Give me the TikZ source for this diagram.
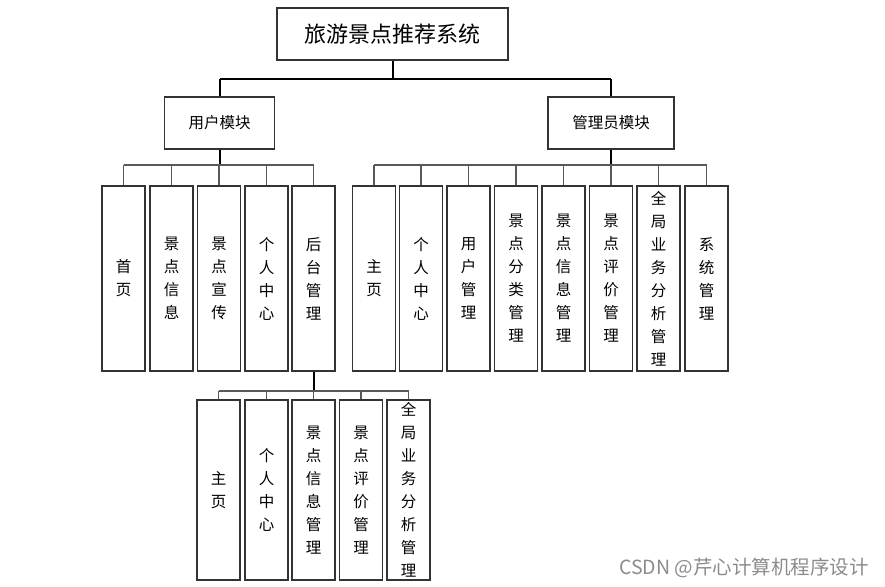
\documentclass[tikz,border=0pt]{standalone}
\usepackage{fontspec}
\setmainfont{Noto Sans CJK SC}
\begin{document}
\begin{tikzpicture}[x=1pt,y=-1pt,
  box/.style={draw=black!80,line width=1.1pt,fill=white,inner sep=0pt,align=center},
  topbox/.style={box,minimum width=231pt,minimum height=52pt,font=\fontsize{22}{26}\selectfont},
  modbox/.style={box,minimum height=52pt,font=\fontsize{15.5}{19}\selectfont},
  leaf/.style={box,minimum width=43pt,minimum height=185pt,font=\fontsize{15.5}{23}\selectfont},
  subleaf/.style={leaf,minimum height=180pt},
  trunk/.style={draw=black,line width=2pt},
  branch/.style={draw=black!65,line width=1.3pt}]
\useasboundingbox (0,0) rectangle (885,586);
\fill[white] (0,0) rectangle (885,586);
% top
\node[topbox] (title) at (392.5,34) {旅游景点推荐系统};
\node[modbox,minimum width=110pt] (user) at (219.5,123) {用户模块};
\node[modbox,minimum width=126pt] (admin) at (611,123) {管理员模块};
% user children
\node[leaf] (u1) at (123.5,278.5) {首\\页};
\node[leaf] (u2) at (171.5,278.5) {景\\点\\信\\息};
\node[leaf] (u3) at (219,278.5) {景\\点\\宣\\传};
\node[leaf] (u4) at (266.5,278.5) {个\\人\\中\\心};
\node[leaf] (u5) at (313.5,278.5) {后\\台\\管\\理};
% admin children
\node[leaf] (a1) at (374,278.5) {主\\页};
\node[leaf] (a2) at (421,278.5) {个\\人\\中\\心};
\node[leaf] (a3) at (468.5,278.5) {用\\户\\管\\理};
\node[leaf] (a4) at (516,278.5) {景\\点\\分\\类\\管\\理};
\node[leaf] (a5) at (563.5,278.5) {景\\点\\信\\息\\管\\理};
\node[leaf] (a6) at (611,278.5) {景\\点\\评\\价\\管\\理};
\node[leaf] (a7) at (658.5,278.5) {全\\局\\业\\务\\分\\析\\管\\理};
\node[leaf] (a8) at (706.5,278.5) {系\\统\\管\\理};
% sub children
\node[subleaf] (s1) at (218.5,490) {主\\页};
\node[subleaf] (s2) at (266.5,490) {个\\人\\中\\心};
\node[subleaf] (s3) at (313.5,490) {景\\点\\信\\息\\管\\理};
\node[subleaf] (s4) at (361,490) {景\\点\\评\\价\\管\\理};
\node[subleaf] (s5) at (408.5,490) {全\\局\\业\\务\\分\\析\\管\\理};
% bus coordinates
\coordinate (tbus) at (392.5,79);
\coordinate (ubus) at (219.5,165);
\coordinate (abus) at (611,165);
\coordinate (sbus) at (313.5,391);
% top trunk
\draw[trunk] (title.south) -- (tbus);
\draw[trunk] (user.north |- tbus) -- (admin.north |- tbus);
\draw[trunk] (user.north |- tbus) -- (user.north);
\draw[trunk] (admin.north |- tbus) -- (admin.north);
% user bus
\draw[trunk] (user.south) -- (ubus);
\draw[branch] (u1.north |- ubus) -- (u5.north |- ubus);
\foreach \n in {u1,u2,u3,u4,u5} \draw[branch] (\n.north |- ubus) -- (\n.north);
% admin bus
\draw[trunk] (admin.south) -- (abus);
\draw[branch] (a1.north |- abus) -- (a8.north |- abus);
\foreach \n in {a1,a2,a3,a4,a5,a6,a7,a8} \draw[branch] (\n.north |- abus) -- (\n.north);
% sub bus
\draw[trunk] (u5.south) -- (sbus);
\draw[branch] (s1.north |- sbus) -- (s5.north |- sbus);
\foreach \n in {s1,s2,s3,s4,s5} \draw[branch] (\n.north |- sbus) -- (\n.north);
% watermark
\node[text=black!45,font=\fontsize{19.5}{23}\selectfont,inner sep=0pt] (wm) at (744,568) {CSDN @芹心计算机程序设计};
\end{tikzpicture}
\end{document}
